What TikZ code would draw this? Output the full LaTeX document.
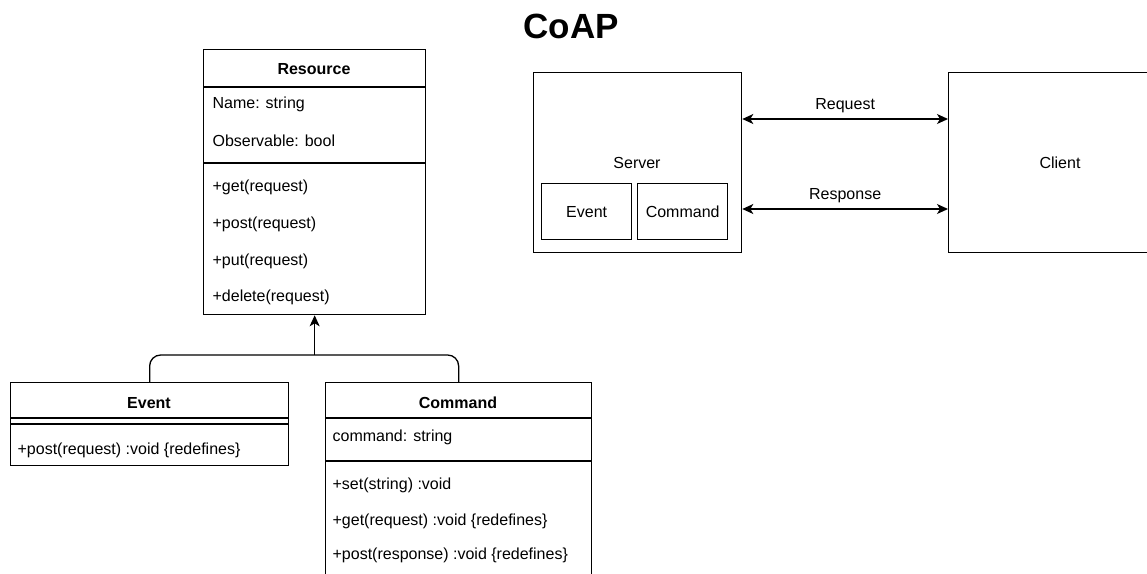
\documentclass[tikz,border=0pt]{standalone}
\usepackage{fontspec}
\setmainfont{Liberation Sans}
\usetikzlibrary{arrows.meta,calc}
\begin{document}
\begin{tikzpicture}[x=1pt,y=-1pt,
  line width=1.3pt,
  box/.style={draw=black, line width=1.3pt, rectangle, inner sep=0pt, anchor=north west},
  txt/.style={anchor=west, inner sep=0pt, font=\fontsize{16}{18}\selectfont},
  ctxt/.style={inner sep=0pt, font=\fontsize{16}{18}\selectfont},
  hdr/.style={inner sep=0pt, font=\fontsize{16}{18}\selectfont\bfseries},
  tip/.style={-{Stealth[length=11pt,width=10pt,inset=3pt]}},
  dtip/.style={{Stealth[length=11pt,width=10pt,inset=3pt]}-{Stealth[length=11pt,width=10pt,inset=3pt]}}
]
\useasboundingbox (0,0) rectangle (1147,573);
\clip (0,0) rectangle (1147,573);
\fill[white] (0,0) rectangle (1147,573);

% title
\node[inner sep=0pt, font=\fontsize{35}{38}\selectfont\bfseries] (title) at (571,26) {CoAP};

% Resource class
\node[box, minimum width=222pt, minimum height=265pt] (res) at (203,49) {};
\node[hdr] (resh) at (314,69) {Resource};
\draw ($(res.north west)+(0,38)$) -- ($(res.north east)+(0,38)$);
\node[txt] (resa1) at (212,104) {Name: string};
\node[txt] (resa2) at (212,141) {Observable: bool};
\draw ($(res.north west)+(0,114)$) -- ($(res.north east)+(0,114)$);
\node[txt] (resm1) at (212,187) {+get(request)};
\node[txt] (resm2) at (212,224) {+post(request)};
\node[txt] (resm3) at (212,261) {+put(request)};
\node[txt] (resm4) at (212,297) {+delete(request)};

% Event class
\node[box, minimum width=278pt, minimum height=83pt] (ev) at (10,382) {};
\node[hdr] (evh) at (149,403) {Event};
\draw ($(ev.north west)+(0,36)$) -- ($(ev.north east)+(0,36)$);
\draw ($(ev.north west)+(0,42)$) -- ($(ev.north east)+(0,42)$);
\node[txt] (evm1) at (17,450) {+post(request) :void \{redefines\}};

% Command class
\node[box, minimum width=266pt, minimum height=220pt] (cmd) at (325,382) {};
\node[hdr] (cmdh) at (458,403) {Command};
\draw ($(cmd.north west)+(0,36)$) -- ($(cmd.north east)+(0,36)$);
\node[txt] (cmda1) at (332,437) {command: string};
\draw ($(cmd.north west)+(0,79)$) -- ($(cmd.north east)+(0,79)$);
\node[txt] (cmdm1) at (332,485) {+set(string) :void};
\node[txt] (cmdm2) at (332,521) {+get(request) :void \{redefines\}};
\node[txt] (cmdm3) at (332,555) {+post(response) :void \{redefines\}};

% inheritance
\coordinate (join) at (res.south |- 0,355);
\draw[rounded corners=11pt] (ev.north) -- (ev.north |- join) -- (cmd.north |- join) -- (cmd.north);
\draw[tip] (join) -- (res.south);

% Server / Client
\node[box, minimum width=208pt, minimum height=180pt] (srv) at (533,72) {};
\node[ctxt] (srvl) at (637,163) {Server};
\node[box, minimum width=90pt, minimum height=56pt] (sev) at (541,183) {};
\node[ctxt] at (sev.center) {Event};
\node[box, minimum width=90pt, minimum height=56pt] (scmd) at (637,183) {};
\node[ctxt] at (scmd.center) {Command};
\node[box, minimum width=224pt, minimum height=180pt] (cli) at (948,72) {};
\node[ctxt] (clil) at (1060,163) {Client};

\draw[dtip] (srv.east |- 0,119) -- (cli.west |- 0,119) node[midway, above=6pt, ctxt] {Request};
\draw[dtip] (srv.east |- 0,209) -- (cli.west |- 0,209) node[midway, above=6pt, ctxt] {Response};
\end{tikzpicture}
\end{document}
